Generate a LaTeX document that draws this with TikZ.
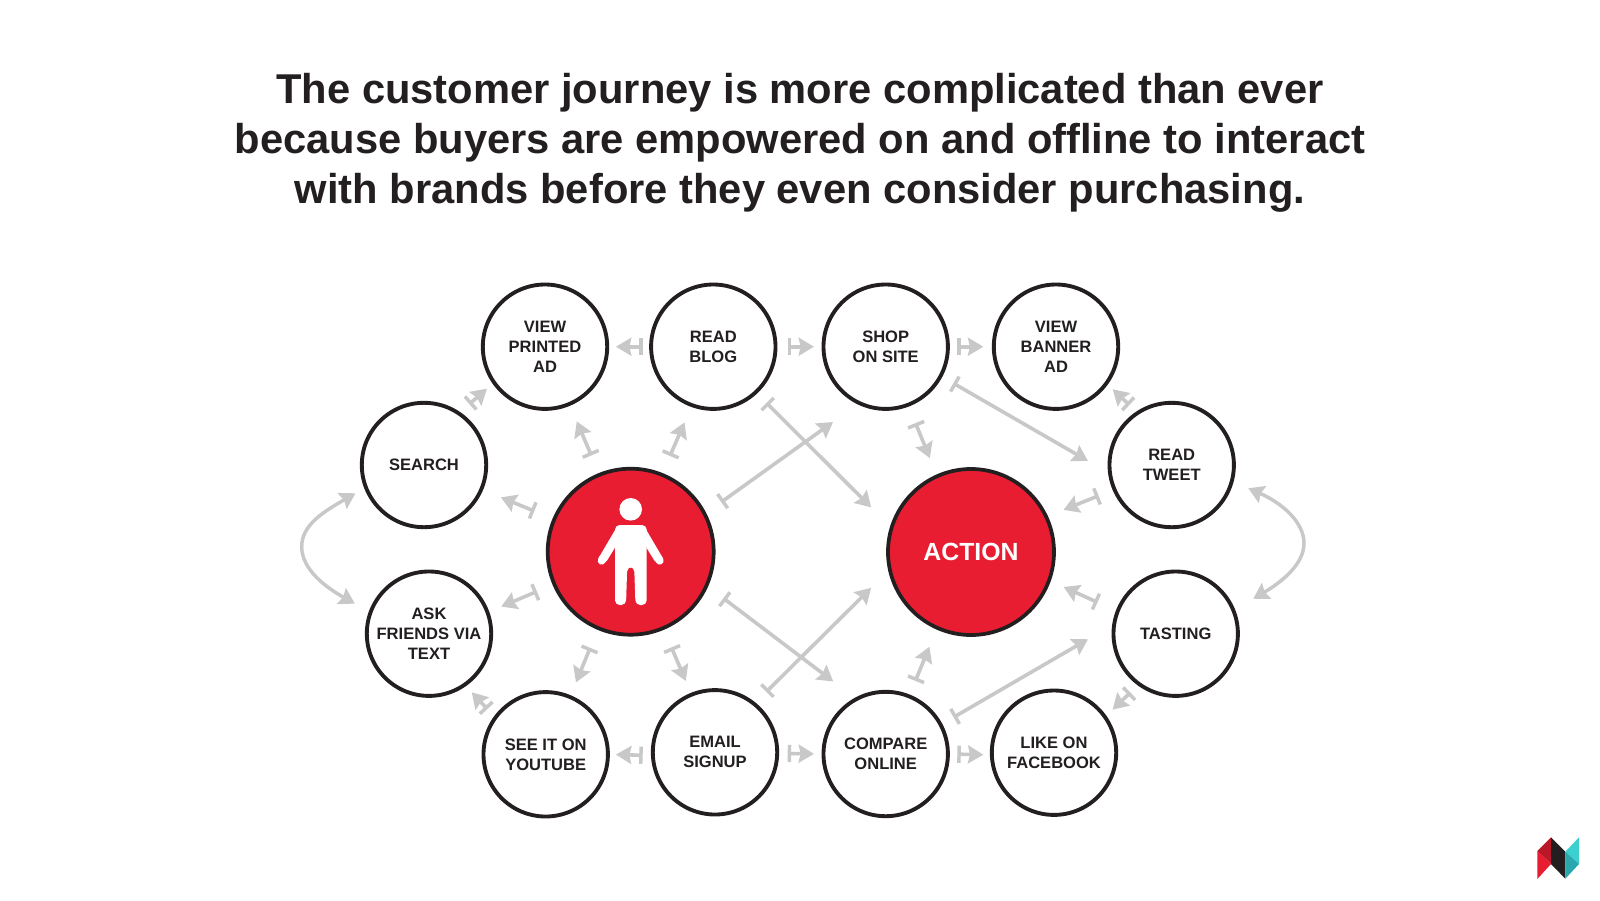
\documentclass[tikz,border=0pt]{standalone}
\usepackage{fontspec}
\setmainfont{Liberation Sans}
\usetikzlibrary{arrows.meta}
\definecolor{ink}{HTML}{231F20}
\definecolor{flowgray}{HTML}{C8C8C8}
\definecolor{brandred}{HTML}{E91D32}
\tikzset{
  x=0.75pt,y=-0.75pt,
  spot/.style={circle,draw=ink,fill=white,line width=2.9pt,minimum size=93.3pt,inner sep=0pt,outer sep=0pt,
    align=center,text=ink,font=\bfseries\fontsize{12.4pt}{15pt}\selectfont},
  hub/.style={circle,draw=ink,fill=brandred,line width=2.8pt,minimum size=124.5pt,inner sep=0pt,outer sep=0pt,
    text=white,font=\bfseries\fontsize{18.6pt}{22pt}\selectfont},
  conn/.style={draw=flowgray,line width=2.7pt,{Bar[width=13pt,line width=2.6pt]}-{Stealth[length=11.5pt,width=13.5pt,inset=1.5pt]}},
  loopconn/.style={draw=flowgray,line width=2.6pt,{Stealth[length=11.5pt,width=13.5pt,inset=1.5pt]}-{Stealth[length=11.5pt,width=13.5pt,inset=1.5pt]}},
  sh/.style 2 args={shorten <=#1*0.75pt,shorten >=#2*0.75pt},
  titletext/.style={align=center,text=ink,font=\bfseries\fontsize{31.27pt}{37.5pt}\selectfont},
}
\begin{document}
\begin{tikzpicture}
\useasboundingbox[fill=white] (0,0) rectangle (1600,900);

\node[titletext] (title) at (800,143) {The customer journey is more complicated than ever\\because buyers are empowered on and offline to interact\\with brands before they even consider purchasing.};

\node[spot] (printed) at (545,346.7) {VIEW\\PRINTED\\AD};
\node[spot] (blog) at (713.3,346.7) {READ\\BLOG};
\node[spot] (shop) at (885.7,346.7) {SHOP\\ON SITE};
\node[spot] (banner) at (1056,346.7) {VIEW\\BANNER\\AD};
\node[spot] (tweet) at (1171.7,465) {READ\\TWEET};
\node[spot] (tasting) at (1175.7,633.7) {TASTING};
\node[spot] (like) at (1054,752.7) {LIKE ON\\FACEBOOK};
\node[spot] (compare) at (885.7,754) {COMPARE\\ONLINE};
\node[spot] (email) at (715,752.3) {EMAIL\\SIGNUP};
\node[spot] (youtube) at (545.7,754.3) {SEE IT ON\\YOUTUBE};
\node[spot] (ask) at (429,633.7) {ASK\\FRIENDS VIA\\TEXT};
\node[spot] (search) at (424,465) {SEARCH};
\node[hub] (person) at (630.7,551.7) {};
\node[hub] (action) at (971,552) {ACTION};

% person figure
\fill[white] (630.7,509.3) circle[radius=11.3];
\fill[white,rounded corners=3.5] (615,605) -- (615,525) -- (646.7,525) -- (646.7,605) -- (635.5,605) -- (634.2,567) -- (627.2,567) -- (626,605) -- cycle;
\fill[white,rounded corners=2] (618,525) -- (598.3,558.5) -- (605.5,563) -- (616,546) -- cycle;
\fill[white,rounded corners=2] (643.4,525) -- (663.1,558.5) -- (655.9,563) -- (645.4,546) -- cycle;
\draw[white,line width=6pt,line cap=round] (603,558) -- (601.7,560.7);
\draw[white,line width=6pt,line cap=round] (658.4,558) -- (659.7,560.7);

% horizontal links
\draw[conn,sh={8.4}{8.8}] (blog.180) -- (printed.0);
\draw[conn,sh={12.2}{9.5}] (blog.0) -- (shop.180);
\draw[conn,sh={9.4}{10.5}] (shop.0) -- (banner.180);
\draw[conn,sh={10.2}{8.1}] (email.-177.5) -- (youtube.-0.6);
\draw[conn,sh={10.5}{9.5}] (email.-1.6) -- (compare.180);
\draw[conn,sh={9.4}{8.5}] (compare.0) -- (like.-178.8);

% ring links
\draw[conn,sh={14.1}{9.5}] (search.56) -- (printed.-145.5);
\draw[conn,sh={11.8}{10.4}] (youtube.144.2) -- (ask.-55);
\draw[conn,sh={11.5}{8.8}] (tweet.123.1) -- (banner.-36);
\draw[conn,sh={12.2}{10.6}] (tasting.-126.4) -- (like.35.4);

% from the person
\draw[conn,sh={21}{18.9}] (person.112.5) -- (printed.-67.8);
\draw[conn,sh={20.5}{18.9}] (person.68.6) -- (blog.-110.4);
\draw[conn,sh={21.6}{21.2}] (person.157.6) -- (search.-23.2);
\draw[conn,sh={18.9}{15}] (person.-157.3) -- (ask.20.6);
\draw[conn,sh={21.3}{15.8}] (person.-113.1) -- (youtube.67.3);
\draw[conn,sh={21}{14.9}] (person.-67.5) -- (email.112.9);
\draw[conn,sh={20.4}{32.5}] (person.27.3) -- (shop.-115.7);
\draw[conn,sh={21.1}{29.2}] (person.-24) -- (compare.118.6);

% towards action
\draw[conn,sh={15.1}{28.9}] (blog.-47.6) -- (action.163.3);
\draw[conn,sh={17.1}{26.4}] (email.51.3) -- (action.-168.4);
\draw[conn,sh={19.8}{19.5}] (shop.-69.5) -- (action.114.4);
\draw[conn,sh={16.7}{20.5}] (compare.68.5) -- (action.-114);
\draw[conn,sh={17.1}{18.7}] (tweet.-157.8) -- (action.25.4);
\draw[conn,sh={22.1}{16.1}] (tasting.159.1) -- (action.-20.9);

% long diagonals on the right
\draw[conn,sh={14.7}{25.6}] (shop.-28.1) -- (tweet.-172.9);
\draw[conn,sh={15}{30.4}] (compare.28.7) -- (tasting.171.9);

% curved two-way links
\coordinate (leftbulge) at (301.7,546.7);
\coordinate (rightbulge) at (1304,543.3);
\draw[loopconn,sh={12}{18}] (search.-159.5) .. controls (323.5,511.7) and (301.7,525) .. (leftbulge) .. controls (301.7,570) and (327,588) .. (ask.160.7);
\draw[loopconn,sh={18}{23}] (tweet.-15) .. controls (1282,503) and (1304,522) .. (rightbulge) .. controls (1304,565) and (1280,583) .. (tasting.22.2);

% logo
\fill[fill=brandred!80!black] (1537.3,851) -- (1551,837.3) -- (1551,864) -- cycle;
\fill[fill=brandred] (1537.3,851) -- (1551,864) -- (1537.3,879) -- cycle;
\fill[fill=ink] (1551,837.3) -- (1565.3,851.7) -- (1565.3,878.7) -- (1551,864) -- cycle;
\fill[fill={rgb,255:red,60;green,207;blue,208}] (1565.3,851.7) -- (1579,837.3) -- (1579,864) -- cycle;
\fill[fill={rgb,255:red,42;green,168;blue,174}] (1565.3,851.7) -- (1579,864) -- (1565.3,878.7) -- cycle;
\end{tikzpicture}
\end{document}
